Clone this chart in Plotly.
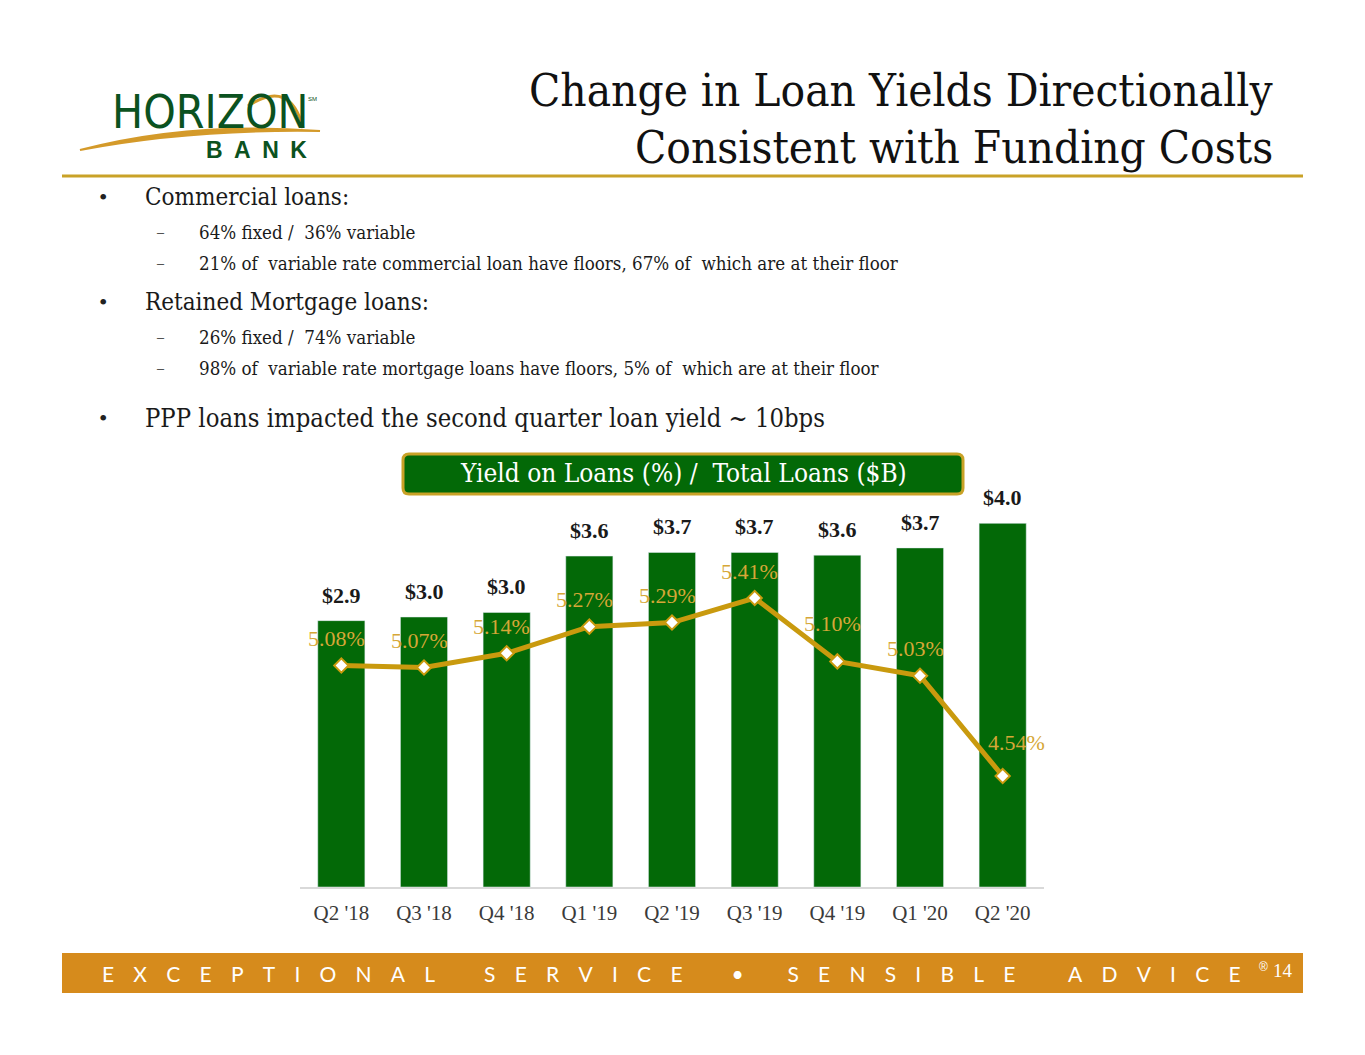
import plotly.graph_objects as go

# chart data
quarters = ["Q2 '18", "Q3 '18", "Q4 '18", "Q1 '19", "Q2 '19", "Q3 '19", "Q4 '19", "Q1 '20", "Q2 '20"]
total_loans = [2.93, 2.97, 3.02, 3.64, 3.68, 3.68, 3.65, 3.73, 4.00]
loan_labels = ["$2.9", "$3.0", "$3.0", "$3.6", "$3.7", "$3.7", "$3.6", "$3.7", "$4.0"]
loan_yield = [5.08, 5.07, 5.14, 5.27, 5.29, 5.41, 5.10, 5.03, 4.54]
yield_labels = ["5.08%", "5.07%", "5.14%", "5.27%", "5.29%", "5.41%", "5.10%", "5.03%", "4.54%"]

# page has an 8px body margin, so the figure is a bit smaller and shifted
OFF = 8
W, H = 1365 - 2 * OFF, 1055 - 2 * OFF
GREEN = "#036907"
GOLD = "#C99A0E"
GOLD_TXT = "#D6A737"
SERIF = "Liberation Serif, Times New Roman, serif"
SLIDE = "DejaVu Serif Condensed, DejaVu Serif, serif"


def px(x):
    return (x - OFF) / W


def py(y):
    return 1 - (y - OFF) / H


fig = go.Figure()

fig.add_trace(go.Bar(
    x=quarters, y=total_loans, marker_color=GREEN, width=0.57,
    hoverinfo="skip", showlegend=False,
))
fig.add_trace(go.Scatter(
    x=quarters, y=loan_yield, yaxis="y2", mode="lines+markers",
    line=dict(color=GOLD, width=5),
    marker=dict(symbol="diamond", size=11, color="white", line=dict(color=GOLD, width=2)),
    showlegend=False,
))

annotations = []
# bar value labels
for q, v, t in zip(quarters, total_loans, loan_labels):
    annotations.append(dict(x=q, y=v, xref="x", yref="y", text="<b>" + t + "</b>",
                            showarrow=False, yanchor="bottom", yshift=11,
                            font=dict(family=SERIF, size=22, color="#1a1a1a")))
# yield labels
for i, (q, v, t) in enumerate(zip(quarters, loan_yield, yield_labels)):
    dx, dy = -5, 27
    if i == 6:
        dy = 38
    if i == 8:
        dx, dy = 14, 34
    annotations.append(dict(x=q, y=v, xref="x", yref="y2", text=t, showarrow=False,
                            xshift=dx, yshift=dy,
                            font=dict(family=SERIF, size=22, color=GOLD_TXT)))

# slide header
annotations += [
    dict(x=px(1275), y=py(90), xref="paper", yref="paper", xanchor="right", yanchor="middle",
         text="Change in Loan Yields Directionally", showarrow=False,
         font=dict(family=SLIDE, size=45.5, color="#111111")),
    dict(x=px(1275), y=py(148), xref="paper", yref="paper", xanchor="right", yanchor="middle",
         text="Consistent with Funding Costs", showarrow=False,
         font=dict(family=SLIDE, size=45.5, color="#111111")),
    dict(x=px(110), y=py(112), xref="paper", yref="paper", xanchor="left", yanchor="middle",
         text="HORIZON", showarrow=False,
         font=dict(family="Liberation Sans Narrow, DejaVu Sans Condensed, sans-serif", size=46, color="#0B5220")),
    dict(x=px(306), y=py(99), xref="paper", yref="paper", xanchor="left", yanchor="middle",
         text="SM", showarrow=False, font=dict(family="Liberation Sans", size=6, color="#0B5220")),
    dict(x=px(204), y=py(150), xref="paper", yref="paper", xanchor="left", yanchor="middle",
         text="<b>B\u2002A\u2002N\u2002K</b>", showarrow=False,
         font=dict(family="Liberation Sans, sans-serif", size=23, color="#0B5220")),
]

# bullets
bullets = [
    (197, "•", "Commercial loans:", 24, 103, 143),
    (232, "–", "64% fixed /  36% variable", 18.6, 160, 197),
    (264, "–", "21% of  variable rate commercial loan have floors, 67% of  which are at their floor", 18.6, 160, 197),
    (302, "•", "Retained Mortgage loans:", 24, 103, 143),
    (337, "–", "26% fixed /  74% variable", 18.6, 160, 197),
    (369, "–", "98% of  variable rate mortgage loans have floors, 5% of  which are at their floor", 18.6, 160, 197),
    (418, "•", "PPP loans impacted the second quarter loan yield ~ 10bps", 25.4, 103, 143),
]
for y, mark, txt, size, xm, xt in bullets:
    annotations.append(dict(x=px(xm), y=py(y), xref="paper", yref="paper", xanchor="center",
                            yanchor="middle", text=mark, showarrow=False,
                            font=dict(family=SERIF, size=24 if mark == "•" else 14, color="#222222")))
    annotations.append(dict(x=px(xt), y=py(y), xref="paper", yref="paper", xanchor="left",
                            yanchor="middle", text=txt, showarrow=False,
                            font=dict(family=SLIDE, size=size, color="#1a1a1a")))

# chart title box text
annotations.append(dict(x=px(683), y=py(473), xref="paper", yref="paper", xanchor="center",
                        yanchor="middle", text="Yield on Loans (%) /  Total Loans ($B)", showarrow=False,
                        font=dict(family=SLIDE, size=26, color="white")))

# footer
sp = "\u2003\u2006"
gap = sp * 2 + "\u2002"
footer = (sp.join("EXCEPTIONAL") + gap + sp.join("SERVICE") + gap + "•" + sp * 2 + "\u2005"
          + sp.join("SENSIBLE") + gap + "\u2006" + sp.join("ADVICE"))
annotations += [
    dict(x=px(100), y=py(973), xref="paper", yref="paper", xanchor="left", yanchor="middle",
         text=footer, showarrow=False, font=dict(family="Lato, Open Sans, sans-serif", size=21, color="white")),
    dict(x=px(1263), y=py(967), xref="paper", yref="paper", xanchor="center", yanchor="middle",
         text="®", showarrow=False, font=dict(family="Liberation Sans", size=12, color="white")),
    dict(x=px(1283), y=py(970), xref="paper", yref="paper", xanchor="center", yanchor="middle",
         text="14", showarrow=False, font=dict(family=SERIF, size=19, color="white")),
]


def rounded_rect(x0, y0, x1, y1, r):
    X0, X1 = px(x0), px(x1)
    Y0, Y1 = py(y0), py(y1)
    rx, ry = r / W, r / H
    return (f"M {X0 + rx},{Y0} L {X1 - rx},{Y0} Q {X1},{Y0} {X1},{Y0 - ry} "
            f"L {X1},{Y1 + ry} Q {X1},{Y1} {X1 - rx},{Y1} L {X0 + rx},{Y1} "
            f"Q {X0},{Y1} {X0},{Y1 + ry} L {X0},{Y0 - ry} Q {X0},{Y0} {X0 + rx},{Y0} Z")


shapes = [
    # header rule
    dict(type="line", xref="paper", yref="paper", x0=px(62), x1=px(1303), y0=py(176), y1=py(176),
         line=dict(color="#C9A227", width=3)),
    # logo swoosh
    dict(type="path", xref="paper", yref="paper",
         path=f"M {px(80)},{py(150)} Q {px(190)},{py(121)} {px(320)},{py(131)} "
              f"Q {px(190)},{py(129)} {px(80)},{py(150)} Z",
         fillcolor="#D49A2A", line=dict(color="#D49A2A", width=2)),
    dict(type="path", xref="paper", yref="paper",
         path=f"M {px(248)},{py(106)} Q {px(290)},{py(78)} {px(303)},{py(128)}",
         line=dict(color="#D49A2A", width=3)),
    # chart title box
    dict(type="path", xref="paper", yref="paper", path=rounded_rect(403, 454, 963, 494, 6),
         fillcolor=GREEN, line=dict(color="#C9A227", width=3)),
    # footer bar
    dict(type="rect", xref="paper", yref="paper", x0=px(62), x1=px(1303), y0=py(993), y1=py(953),
         fillcolor="#D68B1C", line=dict(width=0), layer="below"),
]

fig.update_layout(
    width=W, height=H,
    margin=dict(l=0, r=0, t=0, b=0),
    paper_bgcolor="white", plot_bgcolor="white",
    xaxis=dict(domain=[px(300), px(1044)], range=[-0.5, 8.5], showline=True, linecolor="#D9D9D9",
               linewidth=2, ticks="outside", ticklen=6, tickcolor="rgba(0,0,0,0)",
               tickfont=dict(family=SERIF, size=21, color="#3a3a3a"), showgrid=False),
    yaxis=dict(domain=[py(887), py(487)], range=[0, 4.4], visible=False, showgrid=False),
    yaxis2=dict(domain=[py(887), py(487)], range=[3.9975, 5.9525], overlaying="y", visible=False,
                showgrid=False),
    annotations=annotations,
    shapes=shapes,
)

fig.write_html("out.html")
